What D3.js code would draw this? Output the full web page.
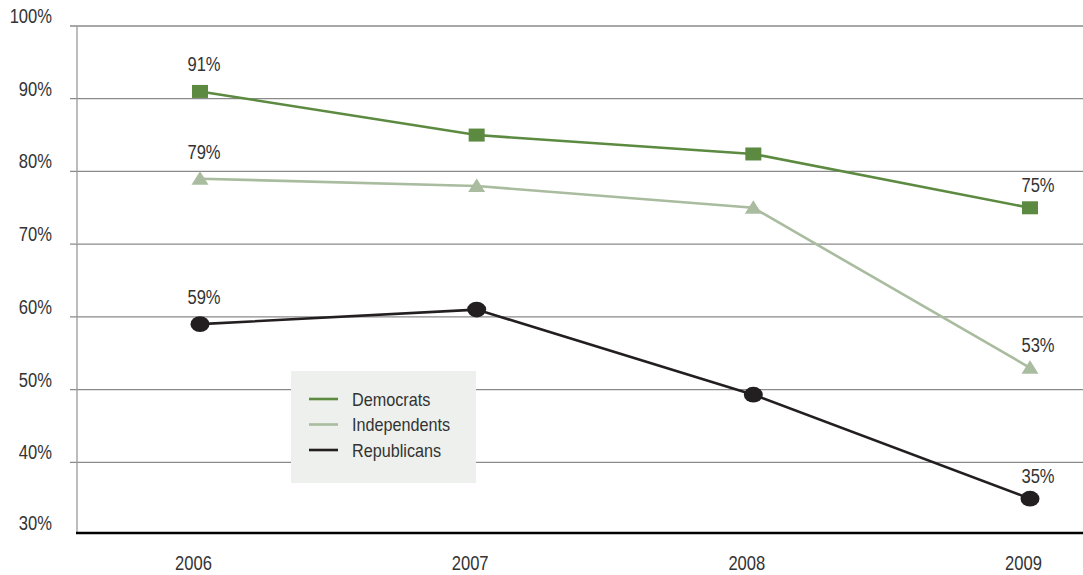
<!DOCTYPE html>
<html>
<head>
<meta charset="utf-8">
<script src="https://cdn.jsdelivr.net/npm/d3@7"></script>
<style>
  html, body { margin: 0; padding: 0; background: #fff; }
  svg { display: block; }
  text { font-family: "Liberation Sans", Arial, sans-serif; fill: #333; }
</style>
</head>
<body>
<svg id="chart" width="1083" height="575"></svg>
<script>
// Share of each group (percent) by survey year
const years = ["2006", "2007", "2008", "2009"];
const democrats = [91, 85, 82.4, 75];
const independents = [79, 78, 75, 53];
const republicans = [59, 61, 49.3, 35];
const yTicks = [30, 40, 50, 60, 70, 80, 90, 100];
const seriesNames = ["Democrats", "Independents", "Republicans"];
// value labels shown on the first and last points of each line
const labelled = [0, 3];

const series = [
  { name: seriesNames[0], values: democrats, color: "#5b8a40", marker: "square" },
  { name: seriesNames[1], values: independents, color: "#a9bc9f", marker: "triangle" },
  { name: seriesNames[2], values: republicans, color: "#231f20", marker: "circle" }
];

const svg = d3.select("#chart");
const plotLeft = 77, plotRight = 1083, plotTop = 26, plotBottom = 535;
const axisY = 533;
// condensed lettering
const squeeze = 0.85;

const x = d3.scalePoint().domain(years).range([200, 1030]);
const y = d3.scaleLinear().domain([30, 100]).range([plotBottom, plotTop]);

// horizontal gridlines
svg.append("g").selectAll("line").data(yTicks.slice(1)).join("line")
  .attr("x1", 70).attr("x2", plotRight)
  .attr("y1", d => y(d)).attr("y2", d => y(d))
  .attr("stroke", "#8a8a8a").attr("stroke-width", 1.3);

// left axis line
svg.append("line").attr("x1", plotLeft).attr("x2", plotLeft).attr("y1", y(100)).attr("y2", axisY)
  .attr("stroke", "#9a9a9a").attr("stroke-width", 1.3);

// y tick labels
svg.append("g").selectAll("text").data(yTicks).join("text")
  .attr("transform", d => `translate(52,${Math.min(y(d), axisY) - 3}) scale(${squeeze},1)`)
  .attr("text-anchor", "end").attr("font-size", 19.5)
  .text(d => d + "%");

// baseline
svg.append("line").attr("x1", plotLeft - 1).attr("x2", plotRight).attr("y1", axisY).attr("y2", axisY)
  .attr("stroke", "#000").attr("stroke-width", 2.5);

// x labels
const xAxis = d3.axisBottom(x).tickSize(0).tickPadding(0);
const gx = svg.append("g").attr("transform", `translate(-7,${axisY})`).call(xAxis);
gx.select(".domain").remove();
gx.attr("font-family", null).attr("font-size", null);
gx.selectAll("text").attr("font-size", 19.5).attr("dy", null).attr("y", 37)
  .attr("fill", "#333").attr("transform", `scale(${squeeze},1)`);

const line = d3.line().x((d, i) => x(years[i])).y(d => y(d));

series.forEach(s => {
  const g = svg.append("g");
  g.append("path").datum(s.values).attr("d", line)
    .attr("fill", "none").attr("stroke", s.color).attr("stroke-width", 2.6);

  const pts = g.selectAll(".pt").data(s.values).join("g")
    .attr("transform", (d, i) => `translate(${x(years[i])},${y(d)})`);
  if (s.marker === "square") {
    pts.append("rect").attr("x", -8).attr("y", -6.5).attr("width", 16).attr("height", 13).attr("fill", s.color);
  } else if (s.marker === "triangle") {
    pts.append("path").attr("d", "M0,-7.5 L8.5,6 L-8.5,6 Z").attr("fill", s.color);
  } else {
    pts.append("ellipse").attr("rx", 9.5).attr("ry", 7.8).attr("fill", s.color);
  }

  g.selectAll(".lbl").data(labelled).join("text")
    .attr("transform", i => `translate(${x(years[i]) + (i === 0 ? 4 : 8)},${y(s.values[i]) - (i === 0 ? 20 : 16)}) scale(${squeeze},1)`)
    .attr("text-anchor", "middle").attr("font-size", 19.5)
    .text(i => Math.round(s.values[i]) + "%");
});

// legend
const lg = svg.append("g").attr("transform", "translate(291,371)");
lg.append("rect").attr("width", 185).attr("height", 112).attr("fill", "#edf0ec");
const items = lg.selectAll(".item").data(series).join("g")
  .attr("transform", (d, i) => `translate(0,${28 + i * 25.5})`);
items.append("line").attr("x1", 18).attr("x2", 47).attr("y1", 0).attr("y2", 0)
  .attr("stroke", d => d.color).attr("stroke-width", 2.6);
items.append("text").attr("transform", "translate(61,6.5) scale(0.9,1)").attr("font-size", 18)
  .text(d => d.name);
</script>
</body>
</html>
